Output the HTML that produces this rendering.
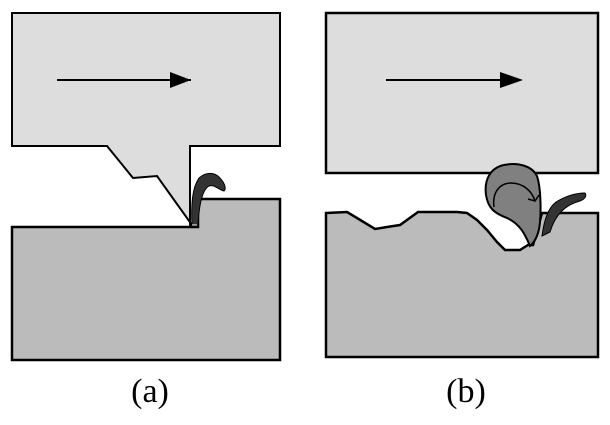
<!DOCTYPE html>
<html><head><meta charset="utf-8"><style>
html,body{margin:0;padding:0;background:#fff;width:610px;height:425px;overflow:hidden}
</style></head><body>
<svg width="610" height="425" viewBox="0 0 610 425" xmlns="http://www.w3.org/2000/svg">
<!-- (a) -->
<path d="M12,227 L198,227 L198,199 L280,199 L280,360 L12,360 Z" fill="#bbb" stroke="#000" stroke-width="2.5"/>
<path d="M12,13 L280,13 L280,146 L190,146 L190,225 L192,225 L157,176 L133,178 L107,146 L12,146 Z" fill="#ddd" stroke="#000" stroke-width="2"/>
<path d="M192,226 C191,205 192,188 199,178 C206,172 214,172 219,177 C224,182 227,188 224,191 C219,190 214,184 209,186 C202,190 199,205 198,226 Z" fill="#333" stroke="#000" stroke-width="1"/>
<line x1="192" y1="225" x2="197" y2="225" stroke="#fff" stroke-width="1"/>
<line x1="57" y1="80" x2="191" y2="80" stroke="#000" stroke-width="2"/>
<polygon points="170,72 191,80 170,88" fill="#000"/>
<!-- (b) -->
<rect x="326" y="13" width="272" height="160" fill="#ddd" stroke="#000" stroke-width="2.5"/>
<line x1="386" y1="80" x2="502" y2="80" stroke="#000" stroke-width="2"/>
<polygon points="500,72 523,80 500,88" fill="#000"/>
<path d="M326,213 L347,212 L357,218 L375,229 L387,227 L400,225 L418,212 L457,212 L467,213 L477,220 L487,230 L497,242 L505,250 L520,250 L528,245 L533,245 L542,213 L598,213 L598,357 L326,357 Z" fill="#bbb" stroke="#000" stroke-width="2.5"/>
<path d="M530,246 C525,234 520,224 507,218 C494,213 488,208 486,195 C484,180 490,168 504,165 C518,162 532,166 537,176 C541,188 541,210 540,222 C539,233 536,241 530,246 Z" fill="#808080" stroke="#000" stroke-width="2"/>
<path d="M542,236 C544,220 548,208 556,202 C566,196 576,193 585,193 C587,196 585,199 580,201 C568,204 556,212 550,232 Z" fill="#333" stroke="#000" stroke-width="1"/>
<path d="M494,207 C492,192 500,183 511,183 C523,183 532,191 535,201" fill="none" stroke="#000" stroke-width="1.5"/>
<path d="M528,199 L535,201 L539,195" fill="none" stroke="#000" stroke-width="1.5"/>
<text x="150" y="402" font-family="Liberation Serif, serif" font-size="34" text-anchor="middle">(a)</text>
<text x="466" y="402" font-family="Liberation Serif, serif" font-size="34" text-anchor="middle">(b)</text>
</svg>
</body></html>
